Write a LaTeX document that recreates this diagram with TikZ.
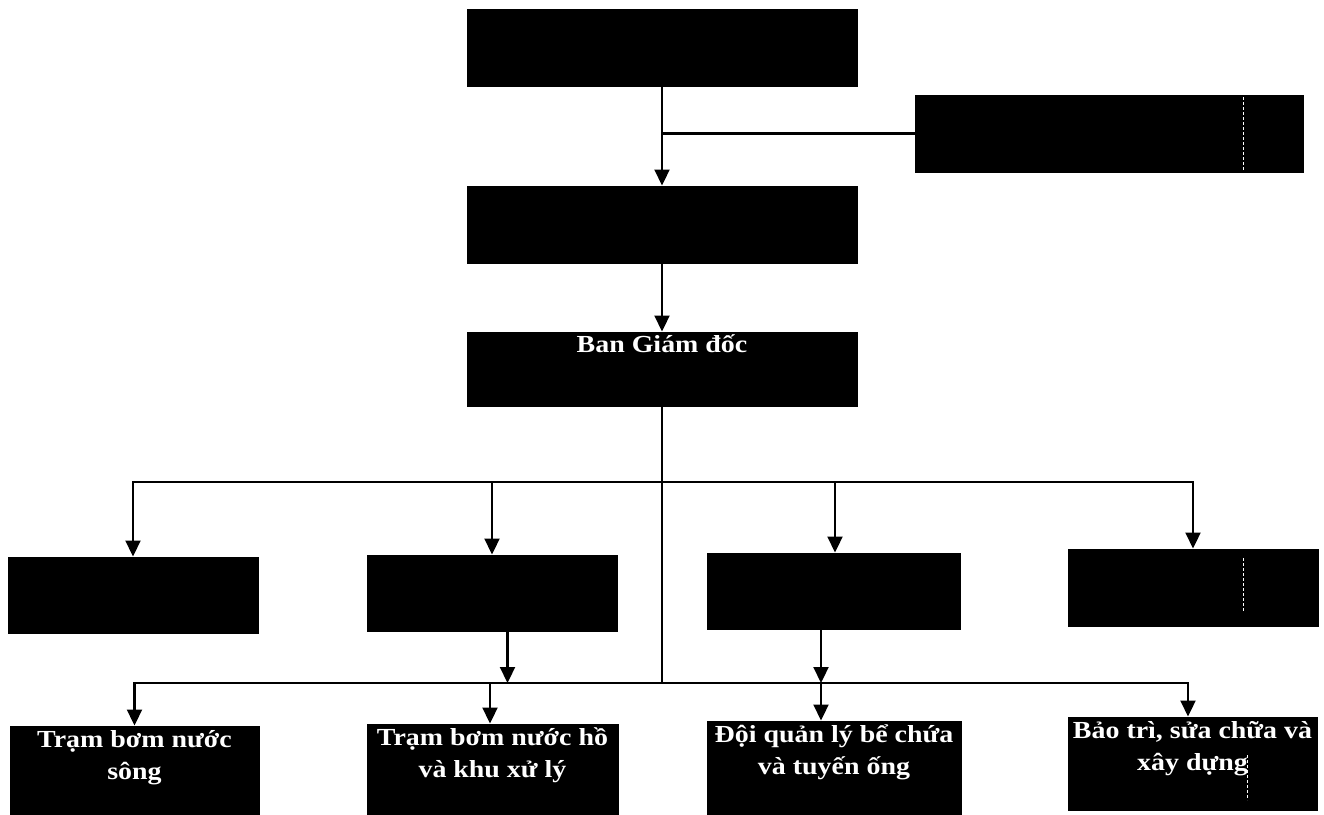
\documentclass[tikz,border=0pt]{standalone}
\usepackage{fontspec}
\setmainfont{Liberation Serif}[FakeStretch=1.14]
\usetikzlibrary{arrows.meta}
\begin{document}
\begin{tikzpicture}[x=1pt,y=-1pt,
  box/.style={draw=black,fill=black,text=white,inner sep=0pt,line width=1pt,
    font=\bfseries\fontsize{24.5}{32}\selectfont},
  conn/.style={line width=2.2pt},
  arr/.style={conn,-{Triangle[length=16pt,width=15pt]}},
  seam/.style={white,line width=0.8pt,dash pattern=on 3pt off 2pt}]
\useasboundingbox[fill=white] (0,0) rectangle (1324,814);
% upper boxes
\node[box,minimum width=390pt,minimum height=77pt] (hdqt) at (662,47.5) {};
\node[box,minimum width=388pt,minimum height=77pt] (bks) at (1109,133.5) {};
\node[box,minimum width=390pt,minimum height=77pt] (tgd) at (662,224.5) {};
\node[box] (bgd) at (662,369) {\parbox[c][74pt][t]{390pt}{\centering\rule{0pt}{20pt}Ban Giám đốc}};
% middle row
\node[box,minimum width=250pt,minimum height=76pt] (b1) at (133,595) {};
\node[box,minimum width=250pt,minimum height=76pt] (b2) at (492,593) {};
\node[box,minimum width=253pt,minimum height=76pt] (b3) at (833.5,591) {};
\node[box,minimum width=250pt,minimum height=77pt] (b4) at (1193,587.5) {};
% bottom row
\node[box] (B1) at (134.5,771) {\parbox[c][90pt][t]{249pt}{\centering\rule{0pt}{21pt}Trạm bơm nước\\sông}};
\node[box] (B2) at (492.5,770) {\parbox[c][92pt][t]{251pt}{\centering\rule{0pt}{21pt}Trạm bơm nước hồ\\và khu xử lý}};
\node[box] (B3) at (834,768.5) {\parbox[c][95pt][t]{254pt}{\centering\rule{0pt}{21pt}Đội quản lý bể chứa\\và tuyến ống}};
\node[box] (B4) at (1192.5,763.5) {\parbox[c][93pt][t]{249pt}{\centering\rule{0pt}{21pt}Bảo trì, sửa chữa và\\xây dựng}};
% seams
\draw[seam] (1243,97) -- (1243,170);
\draw[seam] (1243,558) -- (1243,612);
\draw[seam] (1247,755) -- (1247,800);
% connectors
\draw[arr] (hdqt.south) -- (tgd.north);
\draw[conn] (bks.west) -- (hdqt.south |- bks.west);
\draw[arr] (tgd.south) -- (bgd.north);
\coordinate (j1) at (662,482);
\coordinate (j2) at (662,683);
\draw[conn] (bgd.south) -- (j2);
\draw[arr] (j1) -| (b1);
\draw[arr] (j1) -| (b2);
\draw[arr] (j1) -| ([xshift=1.5pt]b3.north);
\draw[arr] (j1) -| (b4);
\draw[arr] ([xshift=15.5pt]b2.south) -- ([xshift=15.5pt]b2.south |- j2);
\draw[arr] ([xshift=-12.5pt]b3.south) -- ([xshift=-12.5pt]b3.south |- j2);
\draw[arr] (j2) -| (B1);
\draw[arr] (j2) -| ([xshift=-2.5pt]B2.north);
\draw[arr] (j2) -| ([xshift=-13pt]B3.north);
\draw[arr] (j2) -| ([xshift=-4.5pt]B4.north);
\end{tikzpicture}
\end{document}
